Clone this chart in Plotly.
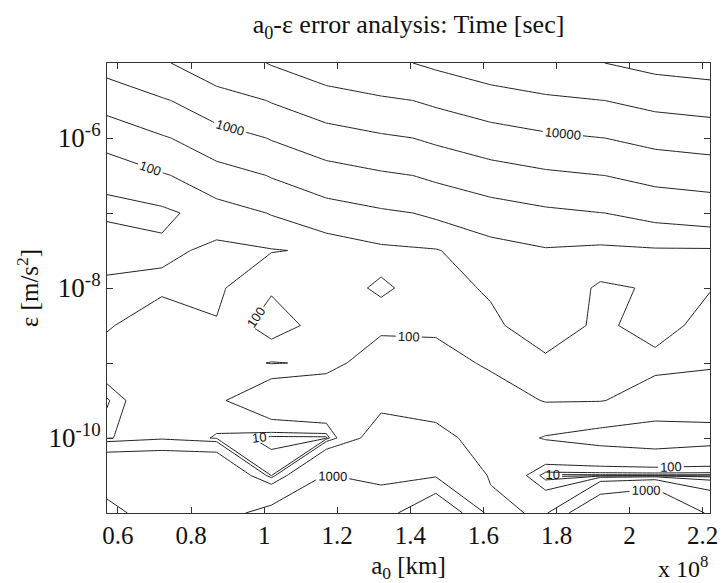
import plotly.graph_objects as go

# Semi-major axis grid (units of 1e8 km) and acceleration grid (m/s^2)
a0 = [0.57, 0.72, 0.87, 1.02, 1.17, 1.32, 1.47, 1.62, 1.77, 1.92, 2.07, 2.22]
eps = [1e-11, 3.162e-11, 1e-10, 3.162e-10, 1e-9, 3.162e-9, 1e-8,
       3.162e-8, 1e-7, 3.162e-7, 1e-6, 3.162e-6, 1e-5]

# log10 of the computation time [sec]; one row per eps value (bottom to top)
log_time = [
    [3.05, 2.90, 2.85, 3.10, 3.18, 3.30, 3.76, 2.62, 2.40, 3.30, 3.45, 2.90],
    [2.90, 2.90, 2.90, 1.45, 3.02, 2.82, 2.91, 2.45, 0.30, 0.30, 0.30, 0.30],
    [1.40, 1.90, 1.40, 0.30, 0.30, 2.70, 2.60, 2.30, 2.52, 2.60, 2.65, 2.60],
    [0.80, 1.90, 1.90, 2.30, 2.40, 2.35, 2.30, 2.30, 1.95, 1.97, 2.20, 2.30],
    [1.80, 1.85, 1.80, 1.45, 1.60, 2.30, 2.25, 1.85, 1.90, 1.85, 1.85, 1.90],
    [1.40, 1.85, 1.55, 2.15, 1.80, 1.80, 1.80, 1.90, 2.20, 1.90, 2.15, 1.80],
    [1.05, 1.30, 1.30, 1.95, 1.80, 2.05, 1.80, 2.05, 2.30, 1.90, 2.05, 2.02],
    [1.85, 1.62, 1.35, 1.45, 1.60, 1.85, 1.95, 2.30, 2.45, 2.30, 2.40, 2.40],
    [1.30, 1.30, 1.74, 2.02, 2.23, 2.40, 2.56, 2.72, 2.87, 2.99, 3.10, 3.16],
    [1.64, 1.93, 2.24, 2.52, 2.73, 2.90, 3.06, 3.22, 3.37, 3.49, 3.60, 3.66],
    [2.14, 2.43, 2.74, 3.02, 3.23, 3.40, 3.56, 3.72, 3.87, 3.99, 4.10, 4.16],
    [2.64, 2.93, 3.24, 3.52, 3.73, 3.90, 4.06, 4.22, 4.37, 4.49, 4.60, 4.66],
    [3.14, 3.43, 3.74, 4.02, 4.23, 4.40, 4.56, 4.72, 4.87, 4.99, 5.10, 5.16],
]
time_sec = [[10 ** v for v in row] for row in log_time]

labelled_levels = [10, 100, 1000, 10000, 100000]
plain_levels = [31.62, 316.2, 3162, 31623]

x_ticks = [0.6, 0.8, 1.0, 1.2, 1.4, 1.6, 1.8, 2.0, 2.2]
y_ticks = [1e-11, 1e-10, 1e-9, 1e-8, 1e-7, 1e-6, 1e-5]
y_ticktext = ["", "10<sup>-10</sup>", "", "10<sup>-8</sup>", "", "10<sup>-6</sup>", ""]

SERIF = "Liberation Serif"
INK = "#222222"
TEXT = "#111111"

fig = go.Figure()

# Each contour level is its own trace so levels can be log-spaced;
# straight segments between grid cells (no smoothing)
for lev in plain_levels + labelled_levels:
    fig.add_trace(go.Contour(
        x=a0, y=eps, z=time_sec,
        autocontour=False,
        contours=dict(start=lev, end=lev, size=lev, coloring="none",
                      showlabels=lev in labelled_levels,
                      labelformat="d",
                      labelfont=dict(family="Liberation Sans", size=13, color=TEXT)),
        line=dict(color=INK, width=1, smoothing=0),
        showscale=False, hoverinfo="skip",
    ))

axis_common = dict(
    showline=True, linecolor="#333333", linewidth=1, mirror="ticks",
    ticks="inside", ticklen=6, tickcolor="#333333",
    showgrid=False, zeroline=False,
    ticklabeloverflow="allow",
)

fig.update_layout(
    width=726, height=583,
    margin=dict(l=107, r=8, t=63, b=70),
    paper_bgcolor="white", plot_bgcolor="white",
    showlegend=False,
    title=dict(text="a<sub>0</sub>-ε error analysis: Time [sec]",
               font=dict(family=SERIF, size=26, color=TEXT),
               x=0.5, xref="paper", xanchor="center",
               y=1 - 24 / 583, yanchor="middle"),
    xaxis=dict(range=[0.57, 2.22], tickvals=x_ticks,
               tickfont=dict(family=SERIF, size=25, color=TEXT),
               title=dict(text="a<sub>0</sub> [km]", standoff=8,
                          font=dict(family=SERIF, size=25, color=TEXT)),
               **axis_common),
    yaxis=dict(type="log", range=[-11, -5], tickvals=y_ticks, ticktext=y_ticktext,
               tickfont=dict(family=SERIF, size=27, color=TEXT),
               title=dict(text="ε [m/s<sup>2</sup>]", standoff=2,
                          font=dict(family=SERIF, size=25, color=TEXT)),
               **axis_common),
    annotations=[dict(text="x 10<sup>8</sup>", xref="paper", yref="paper",
                      x=1.0, y=-0.12, xanchor="right", yanchor="middle",
                      showarrow=False,
                      font=dict(family=SERIF, size=24, color=TEXT))],
)

fig.write_html("out.html")
